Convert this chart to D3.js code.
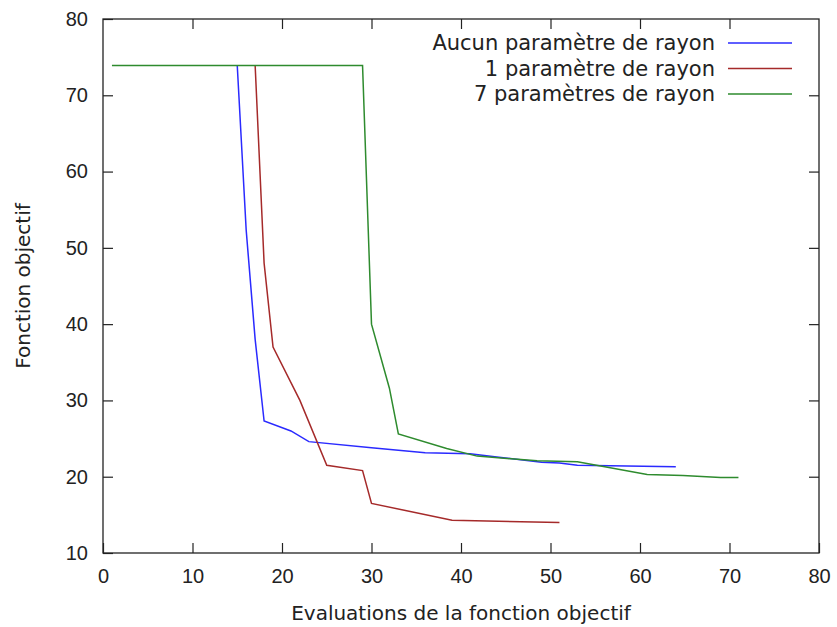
<!DOCTYPE html>
<html>
<head>
<meta charset="utf-8">
<script src="https://cdn.jsdelivr.net/npm/d3@7"></script>
<style>
  body { margin: 0; background: #fff; }
  svg { display: block; font-family: "DejaVu Sans", sans-serif; }
</style>
</head>
<body>
<svg id="chart" width="837" height="627"></svg>
<script>
// séries
var seriesNames = ["Aucun paramètre de rayon", "1 paramètre de rayon", "7 paramètres de rayon"];
var seriesColors = ["#2a2aff", "#a52a2a", "#2e8b2e"];

var aucunX = [15, 16, 17, 18, 21, 23, 30, 36, 41, 44, 49, 51, 53, 64];
var aucunY = [73.9, 52.3, 38, 27.3, 26.0, 24.6, 23.8, 23.15, 23.0, 22.6, 21.9, 21.8, 21.5, 21.3];

var unX = [17, 18, 19, 22, 25, 29, 30, 39, 51];
var unY = [73.9, 48, 37, 30, 21.5, 20.8, 16.5, 14.3, 14.0];

var septX = [1, 29, 30, 32, 33, 38.4, 41.8, 48.5, 53, 60.8, 64.8, 69, 71];
var septY = [73.9, 73.9, 40, 31.6, 25.6, 23.7, 22.7, 22.1, 21.95, 20.3, 20.15, 19.9, 19.9];

var xTicks = [0, 10, 20, 30, 40, 50, 60, 70, 80];
var yTicks = [10, 20, 30, 40, 50, 60, 70, 80];

var mLeft = 103, mRight = 819, mTop = 19, mBottom = 553;

var svg = d3.select("#chart");

var x = d3.scaleLinear().domain([0, 80]).range([mLeft, mRight]);
var y = d3.scaleLinear().domain([10, 80]).range([mBottom, mTop]);

var series = [
    aucunX.map((v, i) => [v, aucunY[i]]),
    unX.map((v, i) => [v, unY[i]]),
    septX.map((v, i) => [v, septY[i]])
];

// axes avec graduations intérieures (style gnuplot)
function styleAxis(g) {
    g.select(".domain").remove();
    g.selectAll(".tick line").attr("stroke", "#222").attr("stroke-width", 1.2);
    g.selectAll(".tick text").attr("fill", "#222").style("font-size", "20px");
}

svg.append("g")
    .attr("transform", `translate(0, ${mBottom})`)
    .call(d3.axisBottom(x).tickValues(xTicks).tickSizeInner(-10).tickSizeOuter(0).tickPadding(16))
    .call(styleAxis);

svg.append("g")
    .attr("transform", `translate(0, ${mTop})`)
    .call(d3.axisTop(x).tickValues(xTicks.slice(1, -1)).tickSizeInner(-10).tickSizeOuter(0).tickFormat(""))
    .call(styleAxis);

svg.append("g")
    .attr("transform", `translate(${mLeft}, 0)`)
    .call(d3.axisLeft(y).tickValues(yTicks).tickSizeInner(-10).tickSizeOuter(0).tickPadding(15))
    .call(styleAxis);

svg.append("g")
    .attr("transform", `translate(${mRight}, 0)`)
    .call(d3.axisRight(y).tickValues(yTicks.slice(1, -1)).tickSizeInner(-10).tickSizeOuter(0).tickFormat(""))
    .call(styleAxis);

// cadre
svg.append("rect")
    .attr("x", mLeft).attr("y", mTop)
    .attr("width", mRight - mLeft).attr("height", mBottom - mTop)
    .attr("fill", "none").attr("stroke", "#222").attr("stroke-width", 1.3);

// courbes
var line = d3.line().x(d => x(d[0])).y(d => y(d[1]));

svg.selectAll("path.serie")
    .data(series)
    .enter()
    .append("path")
    .attr("class", "serie")
    .attr("d", line)
    .attr("fill", "none")
    .attr("stroke", (d, i) => seriesColors[i])
    .attr("stroke-width", 1.5);

// légende
var legend = svg.append("g");
seriesNames.forEach(function(name, i) {
    var ly = 43 + i * 25.5;
    legend.append("text")
        .attr("x", 715).attr("y", ly)
        .attr("dy", "0.35em")
        .attr("text-anchor", "end")
        .attr("fill", "#222")
        .style("font-size", "21px")
        .text(name);
    legend.append("line")
        .attr("x1", 728).attr("x2", 792)
        .attr("y1", ly).attr("y2", ly)
        .attr("stroke", seriesColors[i])
        .attr("stroke-width", 1.5);
});

// titres des axes
svg.append("text")
    .attr("x", (mLeft + mRight) / 2).attr("y", 620)
    .attr("text-anchor", "middle")
    .attr("fill", "#222")
    .style("font-size", "20px")
    .text("Evaluations de la fonction objectif");

svg.append("text")
    .attr("transform", `translate(30, ${(mTop + mBottom) / 2}) rotate(-90)`)
    .attr("text-anchor", "middle")
    .attr("fill", "#222")
    .style("font-size", "20px")
    .text("Fonction objectif");
</script>
</body>
</html>
